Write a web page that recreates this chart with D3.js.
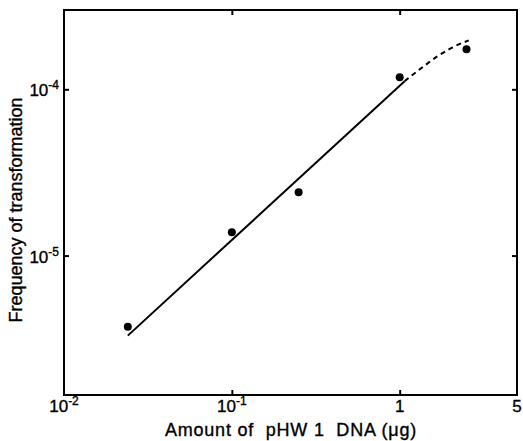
<!DOCTYPE html>
<meta charset="utf-8">
<style>
body { margin: 0; background: #fff; font-family: "Liberation Sans", Arial, sans-serif; }
.axis path, .axis line { fill: none; stroke: #000; stroke-width: 2; }
text { fill: #000; stroke: #000; stroke-width: 0.35; }
</style>
<body>
<svg width="523" height="441"></svg>
<script src="https://d3js.org/d3.v7.min.js"></script>
<script>
// measured points (amount of DNA in ug, frequency)
var doseX = [0.024, 0.1, 0.25, 1.0, 2.5];
var freqY = [3.73e-6, 1.38e-5, 2.4e-5, 1.18e-4, 1.74e-4];
// fitted line, solid part
var fitX = [0.024, 1.07];
var fitY = [3.3e-6, 1.12e-4];
// dashed extrapolation
var dashX = [1.07, 1.37, 1.68, 2.07, 2.58];
var dashY = [1.12e-4, 1.36e-4, 1.58e-4, 1.79e-4, 1.97e-4];
// ticks
var xTicks = [0.01, 0.1, 1, 5];
var xTickLabels = [["10", "-2"], ["10", "-1"], ["1", ""], ["5", ""]];
var yTicks = [1e-5, 1e-4];
var yTickLabels = [["10", "-5"], ["10", "-4"]];

var svg = d3.select("svg"),
    m = {left: 64, right: 517, top: 10, bottom: 395};

var x = d3.scaleLog().domain([0.01, 5]).range([m.left, m.right]);
var y = d3.scaleLog().domain([1.45e-6, 3.0e-4]).range([m.bottom, m.top]);

// frame
svg.append("rect")
    .attr("x", m.left).attr("y", m.top)
    .attr("width", m.right - m.left).attr("height", m.bottom - m.top)
    .attr("fill", "none").attr("stroke", "#000").attr("stroke-width", 2);

// inward ticks on all four sides
svg.append("g").attr("class", "axis")
    .attr("transform", "translate(0," + m.bottom + ")")
    .call(d3.axisBottom(x).tickValues(xTicks.slice(1, 3)).tickSize(-5).tickFormat(""))
    .select(".domain").remove();
svg.append("g").attr("class", "axis")
    .attr("transform", "translate(0," + m.top + ")")
    .call(d3.axisTop(x).tickValues(xTicks.slice(1, 3)).tickSize(-5).tickFormat(""))
    .select(".domain").remove();
svg.append("g").attr("class", "axis")
    .attr("transform", "translate(" + m.left + ",0)")
    .call(d3.axisLeft(y).tickValues(yTicks).tickSize(-5).tickFormat(""))
    .select(".domain").remove();
svg.append("g").attr("class", "axis")
    .attr("transform", "translate(" + m.right + ",0)")
    .call(d3.axisRight(y).tickValues(yTicks).tickSize(-5).tickFormat(""))
    .select(".domain").remove();

// x tick labels
xTicks.forEach(function (v, i) {
    var t = svg.append("text")
        .attr("x", x(v)).attr("y", 412)
        .attr("text-anchor", "middle")
        .style("font-size", "17px");
    t.append("tspan").text(xTickLabels[i][0]);
    if (xTickLabels[i][1]) {
        t.append("tspan").attr("dy", -7).style("font-size", "12px").text(xTickLabels[i][1]);
    }
});

// y tick labels
yTicks.forEach(function (v, i) {
    var t = svg.append("text")
        .attr("x", 59).attr("y", y(v) + 7)
        .attr("text-anchor", "end")
        .style("font-size", "17px");
    t.append("tspan").text(yTickLabels[i][0]);
    t.append("tspan").attr("dy", -7).style("font-size", "12px").text(yTickLabels[i][1]);
});

// axis titles
svg.append("text")
    .attr("x", 291).attr("y", 436)
    .attr("text-anchor", "middle")
    .style("font-size", "18px")
    .style("letter-spacing", "0.8px")
    .style("white-space", "pre")
    .text("Amount of  pHW 1  DNA (\u03bcg)");
svg.append("text")
    .attr("transform", "translate(22,210) rotate(-90)")
    .attr("text-anchor", "middle")
    .style("font-size", "18px")
    .text("Frequency of transformation");

var line = d3.line()
    .x(function (d) { return x(d[0]); })
    .y(function (d) { return y(d[1]); });

svg.append("path")
    .datum(fitX.map(function (v, i) { return [v, fitY[i]]; }))
    .attr("d", line)
    .attr("fill", "none").attr("stroke", "#000").attr("stroke-width", 2);

svg.append("path")
    .datum(dashX.map(function (v, i) { return [v, dashY[i]]; }))
    .attr("d", line.curve(d3.curveMonotoneX))
    .attr("fill", "none").attr("stroke", "#000").attr("stroke-width", 2)
    .attr("stroke-dasharray", "5,4");

svg.selectAll("circle")
    .data(doseX)
    .enter().append("circle")
    .attr("r", 4)
    .attr("cx", function (d) { return x(d); })
    .attr("cy", function (d, i) { return y(freqY[i]); })
    .attr("fill", "#000");
</script>
</body>
